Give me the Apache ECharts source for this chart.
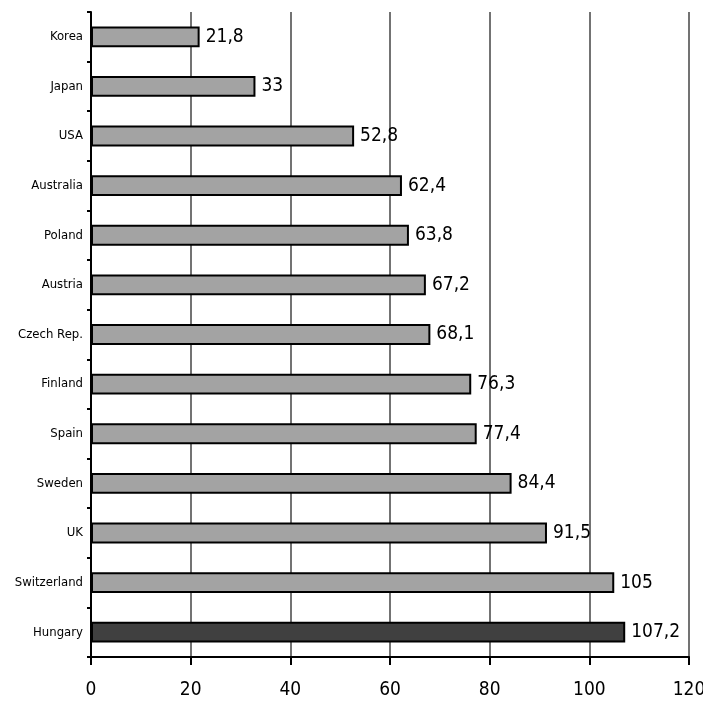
<!DOCTYPE html>
<html>
<head>
<meta charset="utf-8">
<script src="https://cdn.jsdelivr.net/npm/echarts@6/dist/echarts.min.js"></script>
<style>
  html, body { margin: 0; padding: 0; background: #fff; }
  #chart { width: 703px; height: 706px; }
</style>
</head>
<body>
<div id="chart"></div>
<script>
  // data, top to bottom as in the picture
  const countries = ['Korea', 'Japan', 'USA', 'Australia', 'Poland', 'Austria', 'Czech Rep.',
    'Finland', 'Spain', 'Sweden', 'UK', 'Switzerland', 'Hungary']
  const values = [21.8, 33, 52.8, 62.4, 63.8, 67.2, 68.1, 76.3, 77.4, 84.4, 91.5, 105, 107.2]
  const highlight = 'Hungary'
  const xTicks = [0, 20, 40, 60, 80, 100, 120]

  const font = '"DejaVu Sans Condensed", "Liberation Sans", sans-serif'
  const chart = echarts.init(document.getElementById('chart'))
  chart.setOption({
    animation: false,
    grid: { left: 91, right: 14, top: 12, bottom: 49, outerBoundsMode: 'none', containLabel: false },
    xAxis: {
      type: 'value',
      min: xTicks[0],
      max: xTicks[xTicks.length - 1],
      interval: 20,
      axisLine: { show: true, lineStyle: { color: '#000', width: 2 } },
      axisTick: { show: true, length: 8, lineStyle: { color: '#000', width: 2 } },
      axisLabel: { fontFamily: font, fontSize: 19, color: '#000', margin: 24 },
      splitLine: { show: true, lineStyle: { color: '#444', width: 1.5 } }
    },
    yAxis: {
      type: 'category',
      inverse: true,
      data: countries,
      axisLine: { show: true, lineStyle: { color: '#000', width: 2 } },
      axisTick: { show: true, length: 4, lineStyle: { color: '#000', width: 2 } },
      axisLabel: { fontFamily: font, fontSize: 13, color: '#000', margin: 8 }
    },
    series: [{
      type: 'bar',
      barWidth: '42%',
      data: values.map((v, i) => ({
        value: v,
        itemStyle: { color: countries[i] === highlight ? '#404040' : '#a3a3a3' }
      })),
      itemStyle: { borderColor: '#000', borderWidth: 2 },
      label: {
        show: true,
        position: 'right',
        distance: 6,
        fontFamily: font,
        fontSize: 19,
        color: '#000',
        formatter: p => String(p.value).replace('.', ',')
      }
    }]
  })
</script>
</body>
</html>
